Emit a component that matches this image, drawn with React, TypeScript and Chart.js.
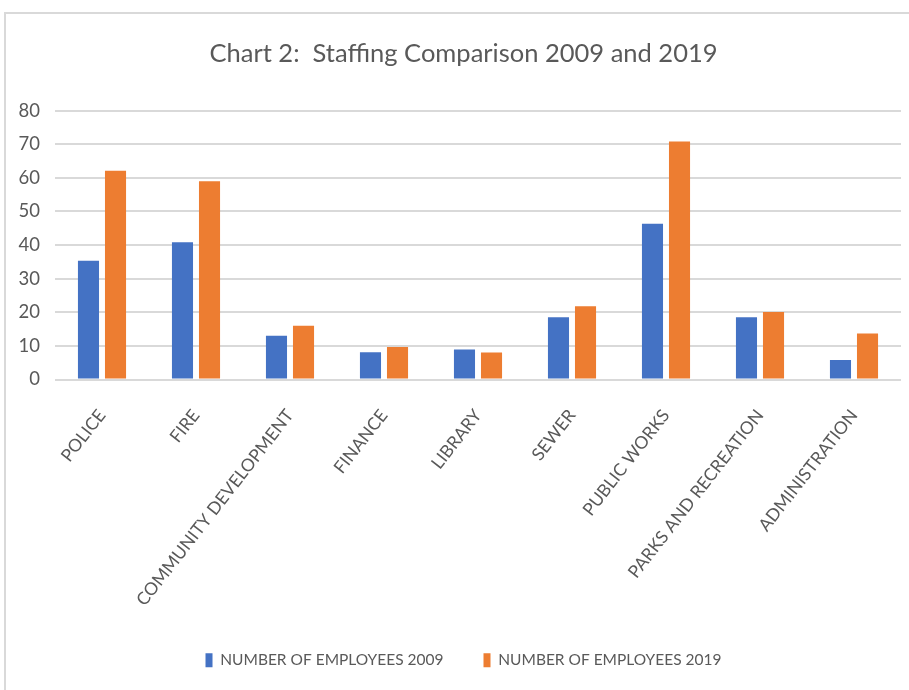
import React, { useEffect, useRef } from "react";
import { Chart, registerables } from "chart.js";

Chart.register(...registerables);

const categories = [
  "POLICE",
  "FIRE",
  "COMMUNITY DEVELOPMENT",
  "FINANCE",
  "LIBRARY",
  "SEWER",
  "PUBLIC WORKS",
  "PARKS AND RECREATION",
  "ADMINISTRATION",
];
const employees2009 = [35.3, 40.8, 13, 8.1, 8.9, 18.5, 46.3, 18.5, 5.8];
const employees2019 = [62.1, 59, 16, 9.7, 8, 21.8, 70.8, 20.1, 13.7];
const seriesNames = ["NUMBER OF EMPLOYEES 2009", "NUMBER OF EMPLOYEES 2019"];
const titleText = "Chart 2:  Staffing Comparison 2009 and 2019";

export default function App() {
  const canvasRef = useRef<HTMLCanvasElement | null>(null);

  useEffect(() => {
    if (!canvasRef.current) return;
    const chart = new Chart(canvasRef.current, {
      type: "bar",
      data: {
        labels: categories,
        datasets: [
          {
            label: seriesNames[0],
            data: employees2009,
            backgroundColor: "#4472C4",
            categoryPercentage: 0.575,
            barPercentage: 0.78,
          },
          {
            label: seriesNames[1],
            data: employees2019,
            backgroundColor: "#ED7D31",
            categoryPercentage: 0.575,
            barPercentage: 0.78,
          },
        ],
      },
      options: {
        responsive: false,
        animation: false,
        layout: { padding: { left: 18, right: 0, top: 0, bottom: 12 } },
        plugins: {
          title: {
            display: true,
            text: titleText,
            color: "#595959",
            font: { family: "Lato", size: 25.5, weight: "normal" },
            padding: { top: 38, bottom: 42 },
          },
          legend: {
            position: "bottom",
            labels: {
              boxWidth: 7,
              boxHeight: 14,
              padding: 40,
              color: "#595959",
              font: { family: "Lato", size: 15.5 },
            },
          },
          tooltip: { enabled: false },
        },
        scales: {
          y: {
            min: 0,
            max: 80,
            ticks: {
              stepSize: 10,
              color: "#595959",
              font: { family: "Lato", size: 18.5 },
              padding: 15,
            },
            grid: { color: "#d9d9d9", lineWidth: 2, drawTicks: false },
            border: { display: false },
            afterFit: (s: any) => {
              s.width = 37;
            },
          },
          yRight: {
            position: "right",
            display: true,
            min: 0,
            max: 80,
            grid: { display: false, drawTicks: false },
            ticks: { display: false },
            border: { display: false },
            afterFit: (s: any) => {
              s.width = 8;
            },
          },
          x: {
            grid: { display: false },
            border: { display: false },
            ticks: {
              minRotation: 52,
              maxRotation: 52,
              color: "#595959",
              font: { family: "Lato", size: 17.5 },
              padding: 18,
            },
            afterFit: (s: any) => {
              s.height = 233;
            },
          },
        },
      },
    });
    return () => chart.destroy();
  }, []);

  return (
    <div
      style={{
        position: "fixed",
        left: 0,
        top: 0,
        width: 909,
        height: 690,
        background: "#fff",
        overflow: "hidden",
      }}
    >
      <div
        style={{
          position: "absolute",
          left: 4,
          top: 12,
          width: 2000,
          height: 2000,
          borderLeft: "2px solid #d9d9d9",
          borderTop: "2px solid #d9d9d9",
        }}
      />
      <canvas
        ref={canvasRef}
        width={909}
        height={690}
        style={{ position: "absolute", left: 0, top: 0 }}
      />
    </div>
  );
}
